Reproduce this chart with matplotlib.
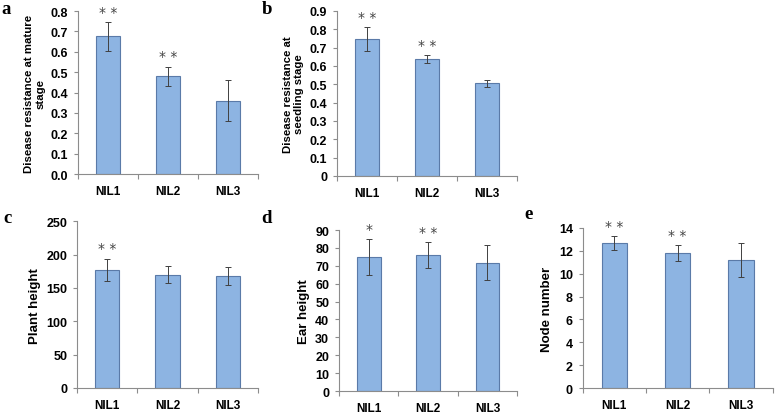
import matplotlib
matplotlib.use("Agg")
import matplotlib.pyplot as plt
import numpy as np

# ---------------------------------------------------------------------------
# data
# ---------------------------------------------------------------------------
lines = ["NIL1", "NIL2", "NIL3"]

mature_mean = [0.675, 0.48, 0.36]
mature_err = [0.072, 0.047, 0.10]
mature_sig = ["**", "**", ""]

seedling_mean = [0.745, 0.637, 0.505]
seedling_err = [0.065, 0.022, 0.02]
seedling_sig = ["**", "**", ""]

plant_mean = [177, 170, 168]
plant_err = [17, 13, 14]
plant_sig = ["**", "", ""]

ear_mean = [75, 76, 71.7]
ear_err = [10, 7.3, 9.7]
ear_sig = ["*", "**", ""]

node_mean = [12.7, 11.8, 11.2]
node_err = [0.6, 0.67, 1.5]
node_sig = ["**", "**", ""]

BAR = "#8db4e2"
EDGE = "#5a7aa8"
SPINE = "#8c8c8c"

plt.rcParams["font.family"] = ["Liberation Sans", "DejaVu Sans"]
plt.rcParams["font.weight"] = "bold"

fig = plt.figure(figsize=(7.78, 4.14), dpi=100)


def panel(rect, means, errs, sigs, ylabel, yticks, ylabels, letter, letter_xy,
          label_size=8.2):
    ax = fig.add_axes(rect)
    x = np.arange(len(lines))
    ax.bar(x, means, width=0.4, color=BAR, edgecolor=EDGE, linewidth=0.8, zorder=2)
    ax.errorbar(x, means, yerr=errs, fmt="none", ecolor="#404040",
                elinewidth=0.7, capsize=2.5, capthick=0.7, zorder=3)
    ymax = yticks[-1]
    for xi, m, e, s in zip(x, means, errs, sigs):
        if s:
            ax.text(xi, m + e + ymax * 0.02, " ".join(s), ha="center", va="bottom",
                    fontsize=10, fontweight="normal", color="#444444",
                    family="DejaVu Sans")
    ax.set_xlim(-0.5, len(lines) - 0.5)
    ax.set_ylim(0, ymax)
    ax.set_yticks(yticks)
    ax.set_yticklabels(ylabels, fontsize=9, fontweight="bold")
    # category ticks sit between the bars, like Excel
    ax.set_xticks(np.arange(len(lines) + 1) - 0.5)
    ax.set_xticklabels([])
    ax.set_xticks(x, minor=True)
    ax.set_xticklabels(lines, minor=True, fontsize=8.5, fontweight="bold")
    ax.tick_params(axis="x", which="minor", length=0, pad=8)
    ax.tick_params(axis="x", which="major", length=3.5, color=SPINE, width=0.8)
    ax.tick_params(axis="y", length=3, color=SPINE, width=0.8, pad=4)
    for side in ("top", "right"):
        ax.spines[side].set_visible(False)
    for side in ("left", "bottom"):
        ax.spines[side].set_color(SPINE)
        ax.spines[side].set_linewidth(0.8)
    ax.set_ylabel(ylabel, fontsize=label_size, fontweight="bold", linespacing=1.1,
                  labelpad=4)
    fig.text(letter_xy[0], letter_xy[1], letter, fontsize=13.5, fontweight="bold",
             family=["Liberation Serif", "DejaVu Serif"], ha="left", va="top")
    return ax


panel([0.1003, 0.577, 0.231, 0.394], mature_mean, mature_err, mature_sig,
      "Disease resistance at mature\nstage",
      np.arange(0, 0.81, 0.1), [f"{v:.1f}" for v in np.arange(0, 0.81, 0.1)],
      "a", (0.002, 0.998))

panel([0.433, 0.5725, 0.231, 0.3986], seedling_mean, seedling_err, seedling_sig,
      "Disease resistance at\nseedling stage",
      np.arange(0, 0.91, 0.1), ["0"] + [f"{v:.1f}" for v in np.arange(0.1, 0.91, 0.1)],
      "b", (0.337, 0.998))

panel([0.099, 0.0604, 0.2327, 0.403], plant_mean, plant_err, plant_sig,
      "Plant height",
      np.arange(0, 251, 50), [str(v) for v in range(0, 251, 50)],
      "c", (0.004, 0.493), label_size=9.5)

panel([0.4357, 0.0530, 0.229, 0.389], ear_mean, ear_err, ear_sig,
      "Ear height",
      np.arange(0, 91, 10), [str(v) for v in range(0, 91, 10)],
      "d", (0.336, 0.493), label_size=9.5)

panel([0.749, 0.0600, 0.244, 0.387], node_mean, node_err, node_sig,
      "Node number",
      np.arange(0, 15, 2), [str(v) for v in range(0, 15, 2)],
      "e", (0.674, 0.503), label_size=9.5)

fig.savefig("out.png", dpi=100)
plt.close(fig)
